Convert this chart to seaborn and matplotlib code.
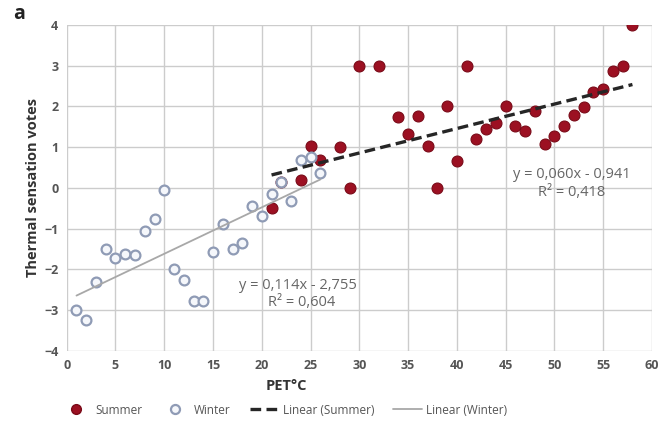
import matplotlib
matplotlib.use("Agg")
import matplotlib.pyplot as plt
from matplotlib.lines import Line2D
import seaborn as sns
import pandas as pd
import numpy as np

# ---- data ----
summer_pet = [21, 22, 24, 25, 26, 28, 29, 30, 32, 34, 35, 36, 37, 38, 39, 40, 41,
              42, 43, 44, 45, 46, 47, 48, 49, 50, 51, 52, 53, 54, 55, 56, 57, 58]
summer_tsv = [-0.49, 0.15, 0.2, 1.02, 0.69, 1.0, 0.0, 3.0, 3.0, 1.75, 1.33, 1.76, 1.02, 0.0, 2.0, 0.67, 3.0,
              1.2, 1.45, 1.6, 2.02, 1.53, 1.4, 1.9, 1.08, 1.27, 1.53, 1.8, 1.98, 2.35, 2.42, 2.88, 3.0, 4.0]

winter_pet = [1, 2, 3, 4, 5, 6, 7, 8, 9, 10, 11, 12, 13, 14, 15, 16, 17, 18, 19, 20,
              21, 22, 23, 24, 25, 26]
winter_tsv = [-3.0, -3.25, -2.3, -1.5, -1.72, -1.62, -1.65, -1.05, -0.77, -0.05, -2.0, -2.25, -2.77, -2.77,
              -1.57, -0.88, -1.5, -1.35, -0.45, -0.7, -0.15, 0.15, -0.33, 0.69, 0.76, 0.36]

summer_fit = [0.060, -0.941]   # slope, intercept (Excel trendline)
winter_fit = [0.114, -2.755]
summer_eq = ["y = 0,060x - 0,941", "R² = 0,418"]
winter_eq = ["y = 0,114x - 2,755", "R² = 0,604"]
legend_labels = ["Summer", "Winter", "Linear (Summer)", "Linear (Winter)"]

# ---- style ----
sns.set_theme(style="white")
plt.rcParams['font.family'] = ['Open Sans', 'DejaVu Sans']

summer_color = "#9c1022"
summer_edge = "#7a0a18"
winter_edge = "#8f9bb5"
winter_face = "#f5f7fb"

fig = plt.figure(figsize=(6.62, 4.28), dpi=100)
ax = fig.add_axes([0.1008, 0.18, 0.884, 0.7616])

df_s = pd.DataFrame({"PET": summer_pet, "TSV": summer_tsv})
df_w = pd.DataFrame({"PET": winter_pet, "TSV": winter_tsv})

sns.scatterplot(data=df_s, x="PET", y="TSV", ax=ax, s=62, color=summer_color,
                edgecolor=summer_edge, linewidth=0.8, zorder=3, legend=False)
sns.scatterplot(data=df_w, x="PET", y="TSV", ax=ax, s=50, color=winter_face,
                edgecolor=winter_edge, linewidth=1.6, zorder=4, legend=False)

# trendlines
xs = np.array([min(summer_pet), max(summer_pet)])
xw = np.array([min(winter_pet), max(winter_pet)])
ax.plot(xw, winter_fit[0] * xw + winter_fit[1], color="#a8a8a8", lw=1.3, zorder=5)
ax.plot(xs, summer_fit[0] * xs + summer_fit[1], color="#262626", lw=2.4,
        dashes=(3.2, 1.6), zorder=6)

ax.set_xlim(0, 60)
ax.set_ylim(-4, 4)
ax.set_xticks(range(0, 61, 5))
ax.set_yticks(range(-4, 5, 1))
ax.grid(True, color="#cccccc", lw=1.0)
for sp in ax.spines.values():
    sp.set_visible(False)
ax.tick_params(axis="both", length=0, labelsize=9, labelcolor="#555555", pad=6)
for lab in ax.get_xticklabels() + ax.get_yticklabels():
    lab.set_fontweight("bold")

ax.set_xlabel("PET°C", fontsize=10.5, fontweight="bold", color="#333333", labelpad=5, x=0.375)
ax.set_ylabel("Thermal sensation votes", fontsize=10.5, fontweight="bold", color="#333333", labelpad=3)

# equations
ax.text(23.7, -2.39, winter_eq[0], ha="center", va="center", fontsize=10.5, color="#666666")
ax.text(24.1, -2.81, winter_eq[1], ha="center", va="center", fontsize=10.5, color="#666666")
ax.text(51.8, 0.33, summer_eq[0], ha="center", va="center", fontsize=10.5, color="#666666")
ax.text(51.8, -0.12, summer_eq[1], ha="center", va="center", fontsize=10.5, color="#666666")

fig.text(0.02, 0.955, "a", fontsize=14, fontweight="bold", color="#222222")

handles = [
    Line2D([], [], ls="none", marker="o", markersize=7, markerfacecolor=summer_color,
           markeredgecolor=summer_edge),
    Line2D([], [], ls="none", marker="o", markersize=6.5, markerfacecolor=winter_face,
           markeredgecolor=winter_edge, markeredgewidth=1.6),
    Line2D([], [], color="#262626", lw=2.4, dashes=(3.2, 1.6)),
    Line2D([], [], color="#a8a8a8", lw=1.3),
]
fig.legend(handles, legend_labels, loc="center", bbox_to_anchor=(0.43, 0.042), ncol=4,
           frameon=False, fontsize=8.5, handlelength=2.4, handletextpad=0.4,
           columnspacing=1.6, labelcolor="#555555")

fig.savefig("out.png", dpi=100)
